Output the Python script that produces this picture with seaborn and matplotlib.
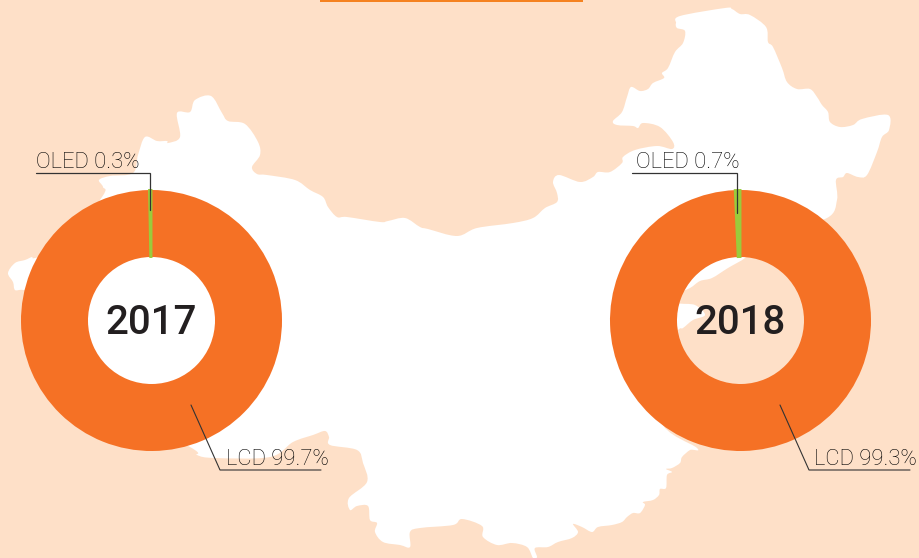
import matplotlib
matplotlib.use("Agg")
import matplotlib.pyplot as plt
from matplotlib.patches import PathPatch
from matplotlib.path import Path
import seaborn as sns

years = ["2017", "2018"]
oled_share = [0.3, 0.7]
lcd_share = [99.7, 99.3]

BG = "#FEE0C8"
ORANGE = "#F57125"
GREEN = "#9ACB3C"
INK = "#231F20"

W, H = 919, 558

# white map behind the donuts, traced in pixels
map_outline = [
    (676, 23), (680, 16), (725, 8), (732, 9), (740, 14), (750, 15), (766, 27), (768, 42),
    (773, 47), (782, 68), (787, 82), (797, 89), (810, 89), (817, 97), (822, 105), (828, 112),
    (830, 122), (840, 127), (853, 125), (862, 119), (888, 115), (889, 130), (882, 137),
    (877, 152), (867, 175), (858, 177), (847, 173), (843, 177), (836, 180), (837, 200),
    (827, 218), (780, 230), (750, 250), (745, 258), (728, 268), (712, 278), (700, 281),
    (690, 288), (675, 295), (678, 303), (695, 305), (705, 315), (693, 320), (683, 328),
    (678, 330), (660, 350), (660, 420), (697, 448), (690, 450), (682, 457), (680, 463),
    (672, 468), (666, 469), (672, 472), (667, 475), (666, 488), (660, 489), (659, 495),
    (653, 500), (643, 502), (645, 505), (640, 513), (633, 513), (627, 517), (622, 522),
    (612, 525), (598, 527), (592, 532), (582, 527), (573, 524), (578, 532), (572, 538),
    (558, 542), (548, 547), (535, 548), (537, 557), (533, 558), (527, 547), (512, 543),
    (497, 545), (483, 537), (482, 526), (462, 519), (453, 525), (420, 528), (410, 532),
    (410, 547), (400, 545), (383, 542), (375, 532), (377, 523), (370, 520), (368, 506),
    (357, 506), (350, 510), (349, 498), (367, 482), (363, 463), (357, 450), (330, 445),
    (329, 437), (325, 431), (313, 435), (293, 442), (270, 457), (215, 458), (197, 455),
    (190, 447), (100, 400), (50, 330), (40, 295), (23, 290), (15, 290), (13, 282), (8, 273),
    (15, 263), (25, 260), (32, 257), (35, 258), (60, 250), (102, 197), (103, 187), (99, 180),
    (110, 176), (133, 173), (138, 155), (145, 137), (157, 141), (167, 141), (168, 143),
    (180, 137), (177, 113), (190, 112), (195, 100), (211, 96), (222, 113), (228, 121),
    (245, 124), (258, 142), (260, 155), (252, 167), (257, 174), (267, 175), (295, 180),
    (310, 190), (323, 197), (328, 207), (337, 217), (347, 217), (380, 222), (388, 221),
    (405, 218), (420, 227), (428, 229), (457, 236), (477, 228), (513, 223), (533, 218),
    (545, 208), (557, 202), (557, 193), (553, 182), (559, 175), (580, 182), (593, 177),
    (598, 172), (610, 172), (622, 163), (623, 157), (635, 150), (657, 146), (672, 149),
    (673, 142), (660, 127), (643, 123), (638, 128), (633, 126), (617, 125), (613, 121),
    (622, 112), (627, 97), (631, 87), (640, 91), (648, 89), (653, 83), (664, 78), (662, 73),
    (668, 68), (675, 52), (683, 43), (685, 31), (677, 28),
]


def smooth_path(pts):
    # closed catmull-rom as bezier segments, takes the corners off the traced outline
    n = len(pts)
    verts = [pts[0]]
    codes = [Path.MOVETO]
    for k in range(n):
        p0, p1, p2, p3 = pts[k - 1], pts[k], pts[(k + 1) % n], pts[(k + 2) % n]
        verts.append((p1[0] + (p2[0] - p0[0]) / 6, p1[1] + (p2[1] - p0[1]) / 6))
        verts.append((p2[0] - (p3[0] - p1[0]) / 6, p2[1] - (p3[1] - p1[1]) / 6))
        verts.append(p2)
        codes += [Path.CURVE4] * 3
    return Path(verts, codes)


sns.set_theme(style="white")
plt.rcParams["font.family"] = ["Roboto", "DejaVu Sans"]
colors = sns.color_palette([GREEN, ORANGE])

fig = plt.figure(figsize=(W / 100, H / 100), dpi=100, facecolor=BG)

# pixel space axes, y pointing down
back = fig.add_axes([0, 0, 1, 1], zorder=0)
back.set_xlim(0, W)
back.set_ylim(H, 0)
back.axis("off")
back.add_patch(PathPatch(smooth_path(map_outline), facecolor="white", lw=0))
back.fill_between([320, 583], 0, 1.5, color="#F58220", lw=0)

front = fig.add_axes([0, 0, 1, 1], zorder=2)
front.patch.set_alpha(0)
front.set_xlim(0, W)
front.set_ylim(H, 0)
front.axis("off")

R_OUT = 130.5
R_IN = 63.5
centers = [151.5, 740.5]
CY = 320.5
oled_line = [(36, 149.5, 210), (632, 737.3, 213)]
oled_text_x = [36, 636]

for i, year in enumerate(years):
    cx = centers[i]
    ax = fig.add_axes([(cx - R_OUT) / W, 1 - (CY + R_OUT) / H, 2 * R_OUT / W, 2 * R_OUT / H], zorder=1)
    wedges, _ = ax.pie([oled_share[i], lcd_share[i]], colors=colors, startangle=90, radius=1,
                       wedgeprops={"width": 1 - R_IN / R_OUT, "linewidth": 0})
    wedges[0].set_edgecolor(GREEN)
    wedges[0].set_linewidth(1.4)
    wedges[0].set_zorder(3)
    ax.set_xlim(-1, 1)
    ax.set_ylim(-1, 1)

    front.text(cx - 0.5, 334, year, ha="center", va="baseline", fontsize=29, fontweight="medium",
               color=INK)

    x0, x1, y1 = oled_line[i]
    front.plot([x0, x1, x1], [172.7, 172.7, y1], color="#333333", lw=0.9, solid_joinstyle="miter")
    front.text(oled_text_x[i], 167.5, f"OLED {oled_share[i]}%", ha="left", va="baseline", fontsize=15.8,
               fontweight="light", color="#000000")

    front.plot([cx + 39.5, cx + 68.5, cx + 169.5], [405, 470, 470], color="#333333", lw=0.8,
               solid_joinstyle="miter")
    front.text(cx + 74, 465, f"LCD {lcd_share[i]}%", ha="left", va="baseline", fontsize=15.8,
               fontweight="light", color="#000000")

fig.savefig("out.png", dpi=100, facecolor=BG)
